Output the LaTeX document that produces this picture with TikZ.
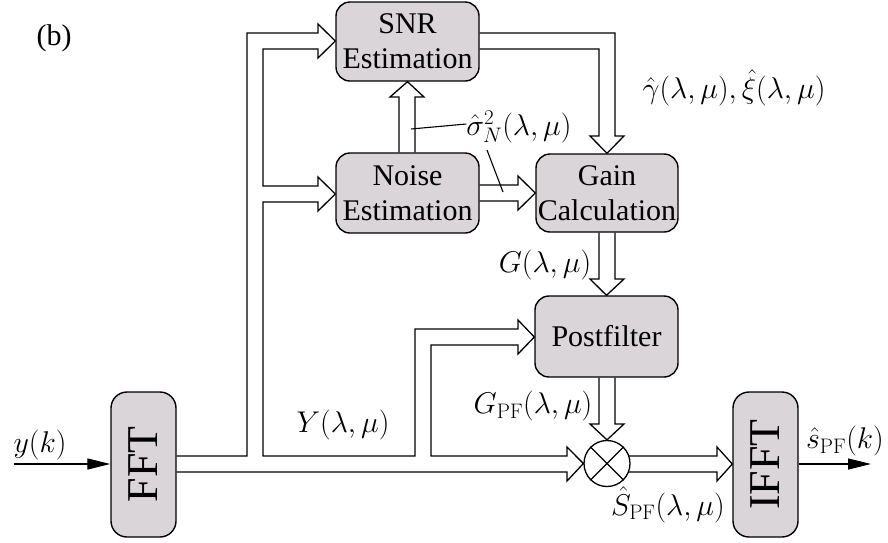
\RequirePackage{fix-cm}
\documentclass[tikz,border=0pt]{standalone}
\usepackage[no-math]{fontspec}
\setmainfont{Liberation Serif}
\usepackage{graphicx}
\usetikzlibrary{arrows.meta}
\definecolor{boxgray}{RGB}{217,213,217}
\begin{document}
\begin{tikzpicture}[x=1pt,y=-1pt,line join=miter,
  blk/.style={draw, line width=1.4pt, fill=boxgray, rounded corners=14pt,
    font=\fontsize{30}{35}\selectfont, align=center, inner sep=0pt},
  hol/.style={draw, line width=1.3pt},
  lbl/.style={font=\fontsize{30}{35}\selectfont, inner sep=0pt},
  thin/.style={draw, line width=1.1pt},
  sig/.style={draw, line width=1.3pt, -{Triangle[length=23pt,width=11pt]}}]
\useasboundingbox (0,0) rectangle (888,542);

% blocks
\node[blk, minimum width=143pt, minimum height=79pt] (snr) at (407.5,41.5) {SNR\\Estimation};
\node[blk, minimum width=143pt, minimum height=80pt] (noise) at (407.5,193) {Noise\\Estimation};
\node[blk, minimum width=142pt, minimum height=78pt] (gain) at (607,193) {Gain\\Calculation};
\node[blk, minimum width=143pt, minimum height=81pt] (post) at (606.5,336.5) {Postfilter};
\node[blk, minimum width=65pt, minimum height=145pt, rounded corners=16pt,
      font=\fontsize{44}{48}\selectfont] (fft) at (143.5,464.5) {\rotatebox{90}{FFT}};
\node[blk, minimum width=65pt, minimum height=145pt, rounded corners=16pt,
      font=\fontsize{44}{48}\selectfont] (ifft) at (765.5,464.5) {\rotatebox{90}{IFFT}};
\node[draw, circle, line width=1.3pt, minimum size=46pt, inner sep=0pt] (mult) at (607,463.5) {};
\draw[line width=1.1pt] (mult.north west) -- (mult.south east)
                        (mult.north east) -- (mult.south west);

% main trunk from FFT: to SNR, Noise, Postfilter and multiplier
\draw[hol] (fft.east |- 0,456) -- (247,456) -- (247,33) -- (318,33) -- (318,24)
  -- (snr.west |- 0,41) -- (318,58) -- (318,49) -- (263,49) -- (263,186)
  -- (318,186) -- (318,177) -- (noise.west |- 0,194) -- (318,211) -- (318,202)
  -- (263,202) -- (263,456) -- (415,456) -- (415,329) -- (518,329) -- (518,320)
  -- (post.west |- 0,337) -- (518,354) -- (518,345) -- (431,345) -- (431,456)
  -- (567,456) -- (567,447) -- (mult.west) -- (567,481) -- (567,472)
  -- (fft.east |- 0,472);

% noise -> snr
\draw[hol] (noise.north -| 399,0) -- (399,97) -- (390,97) -- (snr.south)
  -- (424,97) -- (415,97) -- (noise.north -| 415,0);
% noise -> gain
\draw[hol] (noise.east |- 0,185) -- (518,185) -- (518,176) -- (gain.west)
  -- (518,210) -- (518,201) -- (noise.east |- 0,201);
% snr -> gain
\draw[hol] (snr.east |- 0,33) -- (615,33) -- (615,136) -- (624,136) -- (gain.north)
  -- (590,136) -- (599,136) -- (599,49) -- (snr.east |- 0,49);
% gain -> post
\draw[hol] (gain.south -| 599,0) -- (599,279) -- (590,279) -- (post.north)
  -- (624,279) -- (615,279) -- (gain.south -| 615,0);
% post -> mult
\draw[hol] (post.south -| 599,0) -- (599,424) -- (590,424) -- (mult.north)
  -- (624,424) -- (615,424) -- (post.south -| 615,0);
% mult -> ifft
\draw[hol] (629,456) -- (717,456) -- (717,447) -- (ifft.west |- 0,464)
  -- (717,481) -- (717,472) -- (629,472);

% input / output
\coordinate (yin) at (14,464);
\coordinate (sout) at (871,464);
\draw[sig] (yin) -- (fft.west |- yin);
\draw[sig] (ifft.east |- sout) -- (sout);

% labels
\node[lbl] (b) at (54,38) {(b)};
\node[lbl] (lgx) at (734,88) {$\hat\gamma(\lambda,\mu),\hat\xi(\lambda,\mu)$};
\node[lbl] (lsig) at (519,127) {$\hat\sigma^2_N(\lambda,\mu)$};
\coordinate (s1) at (411,129);
\coordinate (s2) at (487,150);
\draw[thin] (s1) -- (lsig.west |- 0,124);
\draw[thin] (s2) -- (503,192);
\node[lbl] (lG) at (545,265) {$G(\lambda,\mu)$};
\node[lbl] (lY) at (343,425) {$Y(\lambda,\mu)$};
\node[lbl] (lGPF) at (533,406) {$G_{\mathrm{PF}}(\lambda,\mu)$};
\node[lbl] (lS) at (668,505) {$\hat S_{\mathrm{PF}}(\lambda,\mu)$};
\node[lbl] (ls) at (845,441) {$\hat s_{\mathrm{PF}}(k)$};
\node[lbl] (ly) at (40,445) {$y(k)$};
\end{tikzpicture}
\end{document}
